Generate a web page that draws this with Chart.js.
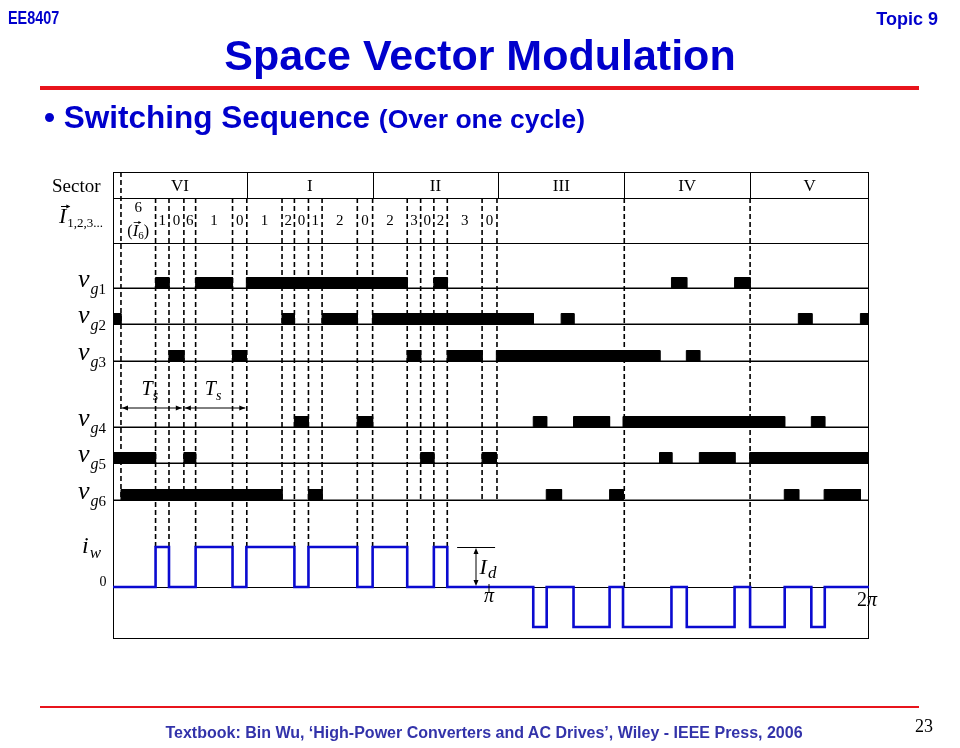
<!DOCTYPE html>
<html>
<head>
<meta charset="utf-8">
<script src="https://cdn.jsdelivr.net/npm/chart.js@4.4.0/dist/chart.umd.min.js"></script>
<style>
  html, body { margin: 0; padding: 0; background: #fff; }
  #slide { position: relative; width: 960px; height: 748px; overflow: hidden; font-family: "Liberation Sans", Arial, sans-serif; }
  #slide canvas { position: absolute; left: 0; top: 0; }
  .t { position: absolute; white-space: nowrap; color: #0000cc; font-weight: bold; }
  .rule { position: absolute; left: 40px; width: 879px; background: #e8141c; }
</style>
</head>
<body>
<div id="slide">
  <canvas id="svm" width="960" height="748"></canvas>
  <div class="t" style="left:8px;top:8px;font-size:18px;transform:scaleX(0.8);transform-origin:0 0">EE8407</div>
  <div class="t" style="right:22px;top:9px;font-size:18px">Topic 9</div>
  <div class="t" style="left:0;width:960px;text-align:center;top:31px;font-size:43px">Space Vector Modulation</div>
  <div class="rule" style="top:86px;height:4px"></div>
  <div class="t" style="left:44px;top:99px;font-size:31.5px">&bull; Switching Sequence <span style="font-size:26.5px">(Over one cycle)</span></div>
  <div class="rule" style="top:706px;height:2px"></div>
  <div class="t" style="left:0;width:968px;text-align:center;top:724px;font-size:16px;color:#3333aa">Textbook: Bin Wu, &lsquo;High-Power Converters and AC Drives&rsquo;, Wiley - IEEE Press, 2006</div>
  <div style="position:absolute;left:915px;top:716px;font:18px 'Liberation Serif',serif;color:#000">23</div>
</div>
<script>
(function () {
  /* ---------- Daten: Zeitachse in Grad über eine Periode ---------- */
  const SECTOR_NAMES = ['VI', 'I', 'II', 'III', 'IV', 'V'];
  const SECTOR_EDGES = [60, 120, 180, 240, 300];
  const X_MIN = -3.8, X_MAX = 356.7;

  // Schaltzeitpunkte (gestrichelte Linien)
  const SWITCH_TIMES = [0, 16.5, 22.9, 30, 35.6, 53.2, 60, 76.8, 82.7, 89.4, 95.9, 112.7,
                        120, 136.5, 142.9, 149.2, 155.6, 172.2, 179.3, 240, 300];
  // Vektorfolge je Zelle zwischen den Schaltzeitpunkten (erste Zelle: 6 bzw. I6)
  const VECTOR_SEQ = ['6', '1', '0', '6', '1', '0', '1', '2', '0', '1', '2', '0', '2', '3', '0', '2', '3', '0'];

  // Gate-Signale: Ein-Intervalle [von, bis]
  const VG1 = [[16.5, 22.9], [35.6, 53.2], [59.8, 136.5], [149.2, 155.6], [262.5, 269.8], [292.6, 300]];
  const VG2 = [[-3.8, 0], [76.8, 82.7], [95.9, 112.7], [120, 196.7], [209.9, 216], [323, 329.5], [352.6, 356.7]];
  const VG3 = [[22.9, 30], [53.2, 59.8], [136.5, 142.9], [155.6, 172.2], [179, 257], [269.6, 276]];
  const VG4 = [[82.7, 89.4], [112.7, 120], [196.6, 203], [215.8, 233], [239.4, 316.5], [329.2, 335.6]];
  const VG5 = [[-3.8, 16.5], [30, 35.6], [142.9, 149.2], [172.2, 179], [256.8, 262.7], [275.8, 292.8], [299.8, 356.7]];
  const VG6 = [[0, 76.8], [89.4, 95.9], [202.8, 210.1], [233, 239.5], [316.3, 323.2], [335.3, 352.6]];
  const GATES = [VG1, VG2, VG3, VG4, VG5, VG6];

  // Strom i_w: Pulse mit +Id bzw. -Id
  const IW_POS = [[16.5, 22.9], [35.6, 53.2], [59.8, 82.7], [89.4, 112.7], [120, 136.5], [149.2, 155.6]];
  const IW_NEG = [[196.6, 203], [215.8, 233], [239.4, 262.5], [269.8, 292.6], [300, 316.5], [329.2, 335.6]];

  // Abtastperioden Ts (Pfeile)
  const TS_SPANS = [[0, 29], [30, 59.3]];

  /* ---------- Layout (Zeilen der Grafik, y von oben) ---------- */
  const ROW_SECTOR = 26, ROW_VECTOR = 71, ROW_BOTTOM = 466;
  const GATE_BASE = [116, 152, 189, 255, 291, 328];
  const GATE_H = 10.5;
  const TS_ARROW_Y = 236;
  const BLUE = '#0a0ad0';
  const SERIF = '"Liberation Serif", "DejaVu Serif", serif';

  function pulseTrace(pulses, low, high) {
    const pts = [{ x: X_MIN, y: low }];
    pulses.forEach(([a, b]) => {
      pts.push({ x: a, y: low }, { x: a, y: high }, { x: b, y: high }, { x: b, y: low });
    });
    pts.push({ x: X_MAX, y: low });
    return pts;
  }

  function iwTrace() {
    const all = IW_POS.map(p => [p[0], p[1], 1]).concat(IW_NEG.map(p => [p[0], p[1], -1]))
      .sort((a, b) => a[0] - b[0]);
    const pts = [{ x: X_MIN, y: 0 }];
    all.forEach(([a, b, lv]) => {
      pts.push({ x: a, y: 0 }, { x: a, y: lv }, { x: b, y: lv }, { x: b, y: 0 });
    });
    pts.push({ x: X_MAX, y: 0 });
    return pts;
  }

  const hasEdge = (list, t) => list.some(p => Math.abs(p[0] - t) < 1 || Math.abs(p[1] - t) < 1);

  function arrowHead(ctx, x, y, dir, len, half) {
    // dir: 'l','r','u','d'
    ctx.beginPath();
    if (dir === 'r') { ctx.moveTo(x, y); ctx.lineTo(x - len, y - half); ctx.lineTo(x - len, y + half); }
    if (dir === 'l') { ctx.moveTo(x, y); ctx.lineTo(x + len, y - half); ctx.lineTo(x + len, y + half); }
    if (dir === 'u') { ctx.moveTo(x, y); ctx.lineTo(x - half, y + len); ctx.lineTo(x + half, y + len); }
    if (dir === 'd') { ctx.moveTo(x, y); ctx.lineTo(x - half, y - len); ctx.lineTo(x + half, y - len); }
    ctx.closePath();
    ctx.fill();
  }

  // Text aus mehreren Stücken (Schrift, Versatz) nacheinander zeichnen
  function drawRuns(ctx, x, y, runs, center) {
    let w = 0;
    runs.forEach(r => { ctx.font = r.f; r.w = ctx.measureText(r.t).width; w += r.w + (r.k || 0); });
    let cx = center ? x - w / 2 : x;
    runs.forEach(r => {
      ctx.font = r.f;
      r.x = cx;
      ctx.fillText(r.t, cx, y + (r.dy || 0));
      cx += r.w + (r.k || 0);
    });
    return runs;
  }

  /* ---------- Raster, Tabelle, Schaltlinien ---------- */
  const gridPlugin = {
    id: 'svmGrid',
    beforeDatasetsDraw(chart) {
      const { ctx, chartArea: a, scales: { x, y, yi } } = chart;
      const X = v => x.getPixelForValue(v);
      const Y = v => y.getPixelForValue(v);
      ctx.save();
      ctx.strokeStyle = '#000';
      ctx.lineWidth = 1;
      const hline = (yy, x0, x1) => {
        yy = Math.round(yy) + 0.5;
        ctx.beginPath(); ctx.moveTo(x0, yy); ctx.lineTo(x1, yy); ctx.stroke();
      };
      const vline = (xx, y0, y1) => {
        ctx.beginPath(); ctx.moveTo(xx, y0); ctx.lineTo(xx, y1); ctx.stroke();
      };
      [0, ROW_SECTOR, ROW_VECTOR, ...GATE_BASE, ROW_BOTTOM].forEach(v => hline(Y(v), a.left, a.right));
      hline(yi.getPixelForValue(0), a.left, a.right);
      vline(Math.round(a.left) + 0.5, Y(0), Y(ROW_BOTTOM));
      vline(Math.round(a.right) - 0.5, Y(0), Y(ROW_BOTTOM));
      SECTOR_EDGES.forEach(t => vline(Math.round(X(t)) + 0.5, Y(0), Y(ROW_SECTOR)));

      ctx.setLineDash([5, 3]);
      ctx.lineWidth = 1.6;
      SWITCH_TIMES.forEach(t => {
        const top = t === 0 ? Y(0) : Y(ROW_SECTOR);
        let bottom = Y(GATE_BASE[5]);
        if (hasEdge(IW_POS, t)) bottom = yi.getPixelForValue(1);
        else if (hasEdge(IW_NEG, t)) bottom = yi.getPixelForValue(0);
        vline(X(t), top, bottom);
      });
      ctx.restore();
    },

    afterDatasetsDraw(chart) {
      const { ctx, chartArea: a, scales: { x, y, yi } } = chart;
      const X = v => x.getPixelForValue(v);
      const Y = v => y.getPixelForValue(v);
      ctx.save();
      ctx.fillStyle = '#000';
      ctx.strokeStyle = '#000';
      ctx.textBaseline = 'alphabetic';

      // linke Beschriftungen
      ctx.font = '19px ' + SERIF;
      ctx.fillText('Sector', 52, Y(ROW_SECTOR) - 6);
      const iv = drawRuns(ctx, 59, Y(ROW_VECTOR) - 20, [
        { t: 'I', f: 'italic 22px ' + SERIF, k: 1 },
        { t: '1,2,3...', f: '13px ' + SERIF, dy: 4 }
      ]);
      ctx.lineWidth = 1;
      ctx.beginPath(); ctx.moveTo(iv[0].x + 2, 206.5); ctx.lineTo(iv[0].x + iv[0].w + 3, 206.5); ctx.stroke();
      arrowHead(ctx, iv[0].x + iv[0].w + 4, 206.5, 'r', 4, 2);

      GATE_BASE.forEach((b, i) => {
        drawRuns(ctx, 78, Y(b) - 1, [
          { t: 'v', f: 'italic 26px ' + SERIF, k: 1 },
          { t: 'g', f: 'italic 16px ' + SERIF, dy: 7 },
          { t: String(i + 1), f: '15px ' + SERIF, dy: 7 }
        ]);
      });

      // Sektoren
      ctx.font = '17px ' + SERIF;
      ctx.textAlign = 'center';
      const edges = [X_MIN, ...SECTOR_EDGES, X_MAX];
      SECTOR_NAMES.forEach((s, i) => ctx.fillText(s, (X(edges[i]) + X(edges[i + 1])) / 2, Y(ROW_SECTOR) - 7));

      // Vektorfolge
      ctx.font = '15px ' + SERIF;
      VECTOR_SEQ.forEach((v, i) => {
        const cx = (X(SWITCH_TIMES[i]) + X(SWITCH_TIMES[i + 1])) / 2;
        if (i === 0) {
          ctx.fillText(v, cx, Y(ROW_SECTOR) + 14);
        } else {
          ctx.fillText(v, cx, Y(ROW_VECTOR) - 18);
        }
      });
      ctx.textAlign = 'left';
      const c0 = (X(SWITCH_TIMES[0]) + X(SWITCH_TIMES[1])) / 2;
      const pr = drawRuns(ctx, c0, Y(ROW_VECTOR) - 7, [
        { t: '(', f: '16px ' + SERIF },
        { t: 'I', f: 'italic 17px ' + SERIF },
        { t: '6', f: '11px ' + SERIF, dy: 3 },
        { t: ')', f: '16px ' + SERIF }
      ], true);
      ctx.lineWidth = 0.8;
      const ay = Y(ROW_VECTOR) - 20.5;
      ctx.beginPath(); ctx.moveTo(pr[1].x + 1, ay); ctx.lineTo(pr[1].x + pr[1].w + 2, ay); ctx.stroke();
      arrowHead(ctx, pr[1].x + pr[1].w + 3, ay, 'r', 3, 1.6);

      // Ts-Pfeile
      ctx.lineWidth = 1;
      TS_SPANS.forEach(([t0, t1]) => {
        const x0 = X(t0) + 1, x1 = X(t1), yy = Y(TS_ARROW_Y);
        ctx.beginPath(); ctx.moveTo(x0, yy); ctx.lineTo(x1, yy); ctx.stroke();
        arrowHead(ctx, x0, yy, 'l', 6, 2.5);
        arrowHead(ctx, x1, yy, 'r', 6, 2.5);
        drawRuns(ctx, (x0 + x1) / 2 - 2, yy - 13, [
          { t: 'T', f: 'italic 20px ' + SERIF },
          { t: 's', f: 'italic 14px ' + SERIF, dy: 5 }
        ], true);
      });

      // i_w Beschriftung
      drawRuns(ctx, 82, yi.getPixelForValue(1) + 6, [
        { t: 'i', f: 'italic 24px ' + SERIF, k: 1 },
        { t: 'w', f: 'italic 17px ' + SERIF, dy: 5 }
      ]);
      ctx.font = '14px ' + SERIF;
      ctx.textAlign = 'center';
      ctx.fillText('0', 103, yi.getPixelForValue(0) - 1);
      ctx.textAlign = 'left';

      // Id-Marke
      const yHi = yi.getPixelForValue(1), yZero = yi.getPixelForValue(0);
      const xm = X(169.3);
      ctx.lineWidth = 1;
      ctx.beginPath(); ctx.moveTo(X(160.3), yHi + 0.5); ctx.lineTo(X(178.4), yHi + 0.5); ctx.stroke();
      ctx.beginPath(); ctx.moveTo(xm, yHi + 5); ctx.lineTo(xm, yZero - 5); ctx.stroke();
      arrowHead(ctx, xm, yHi + 1, 'u', 6, 2.5);
      arrowHead(ctx, xm, yZero - 1, 'd', 6, 2.5);
      drawRuns(ctx, X(171), yZero - 13, [
        { t: 'I', f: 'italic 22px ' + SERIF, k: 1 },
        { t: 'd', f: 'italic 17px ' + SERIF, dy: 4 }
      ]);

      // pi und 2 pi
      const xpi = (a.left + a.right) / 2 - 2;
      ctx.beginPath(); ctx.moveTo(xpi, yZero - 3); ctx.lineTo(xpi, yZero + 6); ctx.stroke();
      ctx.textAlign = 'center';
      ctx.font = 'italic 20px ' + SERIF;
      ctx.fillText('\u03c0', xpi, yZero + 15);
      ctx.textAlign = 'left';
      drawRuns(ctx, a.right - 2, yZero + 19, [
        { t: '2', f: '20px ' + SERIF },
        { t: '\u03c0', f: 'italic 20px ' + SERIF }
      ], true);
      ctx.restore();
    }
  };

  const datasets = GATES.map((pulses, i) => ({
    data: pulseTrace(pulses, GATE_BASE[i], GATE_BASE[i] - GATE_H),
    yAxisID: 'y',
    borderColor: '#000',
    borderWidth: 1,
    backgroundColor: '#000',
    fill: { value: GATE_BASE[i] },
    pointRadius: 0,
    tension: 0
  }));
  datasets.push({
    data: iwTrace(),
    yAxisID: 'yi',
    borderColor: BLUE,
    borderWidth: 2.6,
    borderJoinStyle: 'miter',
    fill: false,
    pointRadius: 0,
    tension: 0
  });

  new Chart(document.getElementById('svm'), {
    type: 'line',
    data: { datasets },
    options: {
      responsive: false,
      animation: false,
      events: [],
      layout: { padding: { left: 113, right: 91, top: 172, bottom: 110 } },
      plugins: { legend: { display: false }, tooltip: { enabled: false } },
      scales: {
        x: { type: 'linear', min: X_MIN, max: X_MAX, display: false },
        y: { type: 'linear', min: 0, max: ROW_BOTTOM, reverse: true, display: false },
        yi: { type: 'linear', min: -1.275, max: 10.375, display: false }
      }
    },
    plugins: [gridPlugin]
  });
})();
</script>
</body>
</html>
